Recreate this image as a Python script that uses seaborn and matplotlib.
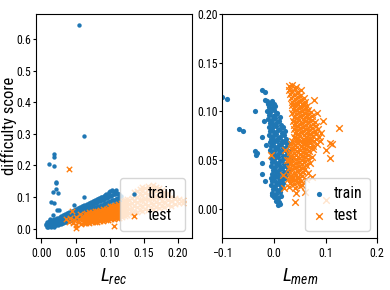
import matplotlib
matplotlib.use("Agg")
import matplotlib.pyplot as plt
from matplotlib import font_manager as fm
import seaborn as sns
import pandas as pd

# ---------------- data ----------------
# left panel: L_rec vs difficulty score, train (dots)
rec_train_pts = [
    (0.006, 0.010), (0.007, 0.016), (0.008, 0.006), (0.009, 0.013), (0.008, 0.020),
    (0.010, 0.004), (0.011, 0.011), (0.010, 0.018), (0.011, 0.025), (0.012, 0.007),
    (0.013, 0.014), (0.012, 0.021), (0.014, 0.005), (0.015, 0.012), (0.014, 0.019),
    (0.015, 0.028), (0.016, 0.009), (0.017, 0.016), (0.016, 0.024), (0.018, 0.006),
    (0.019, 0.013), (0.018, 0.021), (0.019, 0.030), (0.020, 0.010), (0.021, 0.017),
    (0.020, 0.026), (0.022, 0.012), (0.023, 0.020), (0.022, 0.029), (0.023, 0.034),
    (0.024, 0.011), (0.025, 0.018), (0.024, 0.025), (0.025, 0.033), (0.026, 0.014),
    (0.027, 0.022), (0.026, 0.030), (0.027, 0.037), (0.028, 0.016), (0.029, 0.024),
    (0.028, 0.032), (0.029, 0.039), (0.030, 0.017), (0.031, 0.026), (0.030, 0.034),
    (0.031, 0.042), (0.032, 0.019), (0.033, 0.028), (0.032, 0.036), (0.033, 0.044),
    (0.034, 0.021), (0.035, 0.030), (0.034, 0.038), (0.035, 0.045), (0.036, 0.022),
    (0.037, 0.031), (0.036, 0.040), (0.037, 0.048), (0.038, 0.024), (0.039, 0.033),
    (0.038, 0.042), (0.039, 0.050), (0.040, 0.025), (0.041, 0.035), (0.040, 0.044),
    (0.041, 0.052), (0.042, 0.027), (0.043, 0.037), (0.042, 0.046), (0.043, 0.054),
    (0.044, 0.028), (0.045, 0.038), (0.044, 0.048), (0.045, 0.056), (0.046, 0.030),
    (0.047, 0.040), (0.046, 0.050), (0.047, 0.059), (0.048, 0.031), (0.049, 0.042),
    (0.048, 0.052), (0.049, 0.060), (0.050, 0.033), (0.051, 0.044), (0.050, 0.054),
    (0.051, 0.062), (0.052, 0.034), (0.053, 0.046), (0.052, 0.056), (0.053, 0.064),
    (0.054, 0.036), (0.055, 0.047), (0.054, 0.058), (0.055, 0.066), (0.056, 0.037),
    (0.057, 0.049), (0.056, 0.060), (0.057, 0.068), (0.058, 0.039), (0.059, 0.051),
    (0.058, 0.062), (0.059, 0.070), (0.060, 0.040), (0.061, 0.052), (0.060, 0.063),
    (0.061, 0.072), (0.062, 0.042), (0.063, 0.054), (0.062, 0.065), (0.063, 0.074),
    (0.064, 0.043), (0.065, 0.056), (0.064, 0.067), (0.065, 0.076), (0.066, 0.045),
    (0.067, 0.058), (0.066, 0.069), (0.067, 0.078), (0.068, 0.046), (0.069, 0.059),
    (0.068, 0.071), (0.069, 0.080), (0.070, 0.048), (0.071, 0.061), (0.070, 0.073),
    (0.071, 0.082), (0.072, 0.049), (0.073, 0.063), (0.072, 0.075), (0.073, 0.084),
    (0.074, 0.051), (0.075, 0.064), (0.074, 0.077), (0.075, 0.086), (0.076, 0.052),
    (0.077, 0.066), (0.076, 0.078), (0.077, 0.088), (0.078, 0.054), (0.079, 0.068),
    (0.078, 0.080), (0.079, 0.090), (0.080, 0.055), (0.081, 0.069), (0.080, 0.082),
    (0.081, 0.093), (0.082, 0.057), (0.083, 0.071), (0.082, 0.084), (0.083, 0.095),
    (0.084, 0.058), (0.085, 0.073), (0.084, 0.086), (0.085, 0.097), (0.086, 0.060),
    (0.087, 0.075), (0.086, 0.088), (0.087, 0.099), (0.088, 0.061), (0.089, 0.076),
    (0.088, 0.090), (0.089, 0.101), (0.090, 0.063), (0.091, 0.078), (0.090, 0.092),
    (0.091, 0.104), (0.092, 0.064), (0.093, 0.080), (0.092, 0.094), (0.093, 0.106),
    (0.094, 0.066), (0.095, 0.082), (0.094, 0.096), (0.095, 0.108), (0.096, 0.067),
    (0.097, 0.083), (0.096, 0.098), (0.097, 0.111), (0.098, 0.069), (0.099, 0.085),
    (0.098, 0.100), (0.099, 0.115), (0.100, 0.070), (0.101, 0.087), (0.100, 0.102),
    (0.101, 0.119), (0.102, 0.072), (0.103, 0.089), (0.102, 0.104), (0.103, 0.121),
    (0.104, 0.074), (0.105, 0.090), (0.104, 0.106), (0.105, 0.118), (0.106, 0.076),
    (0.107, 0.092), (0.106, 0.108), (0.107, 0.116), (0.108, 0.078), (0.109, 0.094),
    (0.108, 0.110), (0.109, 0.121), (0.110, 0.080), (0.111, 0.096), (0.110, 0.112),
    (0.112, 0.083), (0.113, 0.098), (0.112, 0.110), (0.114, 0.086), (0.115, 0.100),
    (0.114, 0.108), (0.116, 0.090), (0.117, 0.104),
    # scattered high-difficulty training samples
    (0.055, 0.644), (0.062, 0.294), (0.0185, 0.235), (0.019, 0.228), (0.011, 0.204),
    (0.0185, 0.197), (0.021, 0.149), (0.021, 0.144), (0.021, 0.124), (0.017, 0.117),
    (0.024, 0.114), (0.0147, 0.083), (0.018, 0.081), (0.023, 0.059), (0.025, 0.060),
    (0.062, 0.099), (0.047, 0.075), (0.017, 0.043), (0.012, 0.030),
]

# left panel: test (x markers)
rec_test_pts = [
    (0.036, 0.030), (0.040, 0.022), (0.042, 0.035), (0.045, 0.055), (0.046, 0.018),
    (0.048, 0.028), (0.050, 0.012), (0.050, 0.038), (0.050, 0.002), (0.053, 0.022),
    (0.055, 0.031), (0.056, 0.045), (0.058, 0.016), (0.059, 0.026), (0.060, 0.036),
    (0.062, 0.018), (0.062, 0.029), (0.062, 0.041), (0.064, 0.022), (0.064, 0.034),
    (0.064, 0.046), (0.066, 0.017), (0.066, 0.027), (0.066, 0.038), (0.066, 0.049),
    (0.068, 0.021), (0.068, 0.032), (0.068, 0.044), (0.070, 0.019), (0.070, 0.029),
    (0.070, 0.040), (0.070, 0.052), (0.072, 0.024), (0.072, 0.035), (0.072, 0.046),
    (0.074, 0.020), (0.074, 0.030), (0.074, 0.041), (0.074, 0.054), (0.076, 0.025),
    (0.076, 0.036), (0.076, 0.048), (0.078, 0.021), (0.078, 0.032), (0.078, 0.043),
    (0.078, 0.056), (0.080, 0.027), (0.080, 0.038), (0.080, 0.050), (0.082, 0.022),
    (0.082, 0.033), (0.082, 0.045), (0.082, 0.057), (0.084, 0.028), (0.084, 0.039),
    (0.084, 0.052), (0.086, 0.023), (0.086, 0.035), (0.086, 0.047), (0.086, 0.059),
    (0.088, 0.029), (0.088, 0.041), (0.088, 0.054), (0.090, 0.025), (0.090, 0.036),
    (0.090, 0.048), (0.090, 0.061), (0.092, 0.030), (0.092, 0.043), (0.092, 0.056),
    (0.094, 0.026), (0.094, 0.038), (0.094, 0.050), (0.094, 0.063), (0.096, 0.032),
    (0.096, 0.045), (0.096, 0.058), (0.098, 0.027), (0.098, 0.040), (0.098, 0.052),
    (0.098, 0.066), (0.100, 0.034), (0.100, 0.047), (0.100, 0.060), (0.100, 0.070),
    (0.102, 0.029), (0.102, 0.042), (0.102, 0.055), (0.102, 0.067), (0.104, 0.036),
    (0.104, 0.049), (0.104, 0.062), (0.104, 0.072), (0.106, 0.031), (0.106, 0.044),
    (0.106, 0.057), (0.106, 0.069), (0.108, 0.038), (0.108, 0.051), (0.108, 0.064),
    (0.108, 0.075), (0.110, 0.033), (0.110, 0.046), (0.110, 0.059), (0.110, 0.072),
    (0.112, 0.040), (0.112, 0.053), (0.112, 0.066), (0.112, 0.078), (0.114, 0.035),
    (0.114, 0.048), (0.114, 0.061), (0.114, 0.075), (0.116, 0.042), (0.116, 0.056),
    (0.116, 0.069), (0.116, 0.082), (0.118, 0.037), (0.118, 0.050), (0.118, 0.064),
    (0.118, 0.079), (0.120, 0.044), (0.120, 0.058), (0.120, 0.072), (0.120, 0.086),
    (0.122, 0.040), (0.122, 0.053), (0.122, 0.067), (0.122, 0.083), (0.122, 0.092),
    (0.124, 0.046), (0.124, 0.060), (0.124, 0.075), (0.124, 0.088), (0.126, 0.042),
    (0.126, 0.056), (0.126, 0.070), (0.126, 0.085), (0.126, 0.095), (0.128, 0.048),
    (0.128, 0.063), (0.128, 0.078), (0.128, 0.091),
    (0.132, 0.050), (0.132, 0.066), (0.132, 0.082), (0.132, 0.098),
    (0.136, 0.054), (0.136, 0.070), (0.136, 0.087), (0.136, 0.104), (0.136, 0.115),
    (0.140, 0.052), (0.140, 0.068), (0.140, 0.085), (0.140, 0.101), (0.140, 0.118),
    (0.144, 0.058), (0.144, 0.075), (0.144, 0.092), (0.144, 0.109), (0.144, 0.124),
    (0.148, 0.056), (0.148, 0.072), (0.148, 0.089), (0.148, 0.106), (0.148, 0.122),
    (0.148, 0.131), (0.152, 0.061), (0.152, 0.078), (0.152, 0.095), (0.152, 0.112),
    (0.152, 0.128), (0.156, 0.059), (0.156, 0.076), (0.156, 0.093), (0.156, 0.110),
    (0.156, 0.127), (0.156, 0.136), (0.160, 0.064), (0.160, 0.081), (0.160, 0.098),
    (0.160, 0.115), (0.160, 0.132), (0.164, 0.062), (0.164, 0.079), (0.164, 0.096),
    (0.164, 0.113), (0.164, 0.130), (0.164, 0.137), (0.168, 0.067), (0.168, 0.084),
    (0.168, 0.101), (0.168, 0.118), (0.168, 0.133), (0.172, 0.065), (0.172, 0.082),
    (0.172, 0.099), (0.172, 0.116), (0.172, 0.129), (0.176, 0.070), (0.176, 0.087),
    (0.176, 0.104), (0.176, 0.121), (0.180, 0.068), (0.180, 0.085), (0.180, 0.102),
    (0.180, 0.117), (0.185, 0.074), (0.185, 0.090), (0.185, 0.106), (0.185, 0.112),
    (0.190, 0.072), (0.190, 0.088), (0.190, 0.101), (0.196, 0.078), (0.196, 0.093),
    (0.196, 0.098), (0.202, 0.082), (0.202, 0.095), (0.208, 0.080), (0.208, 0.089),
    # isolated test samples
    (0.041, 0.190), (0.107, 0.008),
]

# right panel: L_mem vs difficulty score, train (dots)
mem_train_pts = [
    (-0.012, 0.108), (-0.006, 0.109), (0.000, 0.107), (-0.003, 0.111),
    (-0.010, 0.104), (-0.004, 0.103), (0.003, 0.105),
    (-0.013, 0.100), (-0.007, 0.099), (0.000, 0.101), (0.006, 0.098),
    (-0.009, 0.096), (-0.002, 0.095), (0.005, 0.097), (0.012, 0.094),
    (-0.011, 0.092), (-0.004, 0.091), (0.003, 0.093), (0.010, 0.090),
    (-0.008, 0.088), (-0.001, 0.087), (0.006, 0.089), (0.014, 0.086),
    (-0.010, 0.084), (-0.003, 0.083), (0.004, 0.085), (0.011, 0.082), (0.018, 0.084),
    (-0.007, 0.080), (0.000, 0.079), (0.007, 0.081), (0.015, 0.078), (0.022, 0.080),
    (-0.009, 0.076), (-0.002, 0.075), (0.005, 0.077), (0.012, 0.074), (0.020, 0.076),
    (-0.006, 0.072), (0.001, 0.071), (0.008, 0.073), (0.016, 0.070), (0.024, 0.072),
    (-0.008, 0.068), (-0.001, 0.067), (0.006, 0.069), (0.013, 0.066), (0.021, 0.068),
    (0.028, 0.067),
    (-0.005, 0.064), (0.002, 0.063), (0.009, 0.065), (0.017, 0.062), (0.025, 0.064),
    (-0.007, 0.060), (0.000, 0.059), (0.007, 0.061), (0.014, 0.058), (0.022, 0.060),
    (0.030, 0.059),
    (-0.004, 0.056), (0.003, 0.055), (0.010, 0.057), (0.018, 0.054), (0.026, 0.056),
    (-0.006, 0.052), (0.001, 0.051), (0.008, 0.053), (0.015, 0.050), (0.023, 0.052),
    (0.031, 0.051),
    (-0.003, 0.048), (0.004, 0.047), (0.011, 0.049), (0.019, 0.046), (0.027, 0.048),
    (-0.005, 0.044), (0.002, 0.043), (0.009, 0.045), (0.016, 0.042), (0.024, 0.044),
    (-0.002, 0.040), (0.005, 0.039), (0.012, 0.041), (0.020, 0.038), (0.028, 0.040),
    (-0.004, 0.036), (0.003, 0.035), (0.010, 0.037), (0.017, 0.034), (0.025, 0.036),
    (-0.006, 0.032), (0.001, 0.031), (0.008, 0.033), (0.015, 0.030), (0.022, 0.032),
    (-0.003, 0.028), (0.004, 0.027), (0.011, 0.029), (0.018, 0.026),
    (-0.005, 0.024), (0.002, 0.023), (0.009, 0.025), (0.016, 0.022),
    (-0.001, 0.020), (0.006, 0.019), (0.013, 0.021),
    (-0.003, 0.016), (0.004, 0.015), (0.011, 0.017),
    (0.000, 0.012), (0.007, 0.011), (0.013, 0.013),
    (0.004, 0.008), (0.010, 0.007), (0.008, 0.004), (0.012, 0.005),
    # scattered training samples
    (-0.100, 0.115), (-0.091, 0.113), (-0.023, 0.122), (-0.017, 0.120), (-0.018, 0.112),
    (-0.014, 0.111), (-0.037, 0.100), (-0.067, 0.082), (-0.060, 0.080), (-0.024, 0.074),
    (-0.036, 0.059), (-0.034, 0.055), (-0.033, 0.057), (-0.024, 0.047), (-0.023, 0.036),
    (-0.017, 0.028), (-0.004, 0.014), (-0.015, 0.065), (-0.020, 0.090),
]

# right panel: test (x markers)
mem_test_pts = [
    (0.030, 0.126), (0.036, 0.127), (0.043, 0.125),
    (0.029, 0.122), (0.035, 0.121), (0.041, 0.123), (0.047, 0.120), (0.053, 0.122),
    (0.032, 0.118), (0.038, 0.117), (0.044, 0.119), (0.050, 0.116),
    (0.034, 0.114), (0.040, 0.113), (0.046, 0.115), (0.052, 0.112), (0.058, 0.114),
    (0.036, 0.110), (0.042, 0.109), (0.048, 0.111), (0.054, 0.108), (0.060, 0.110),
    (0.035, 0.106), (0.041, 0.105), (0.047, 0.107), (0.053, 0.104), (0.059, 0.106),
    (0.065, 0.105),
    (0.037, 0.102), (0.043, 0.101), (0.049, 0.103), (0.055, 0.100), (0.061, 0.102),
    (0.067, 0.101),
    (0.036, 0.098), (0.042, 0.097), (0.048, 0.099), (0.054, 0.096), (0.060, 0.098),
    (0.066, 0.097), (0.072, 0.099),
    (0.038, 0.094), (0.044, 0.093), (0.050, 0.095), (0.056, 0.092), (0.062, 0.094),
    (0.068, 0.093), (0.074, 0.095),
    (0.037, 0.090), (0.043, 0.089), (0.049, 0.091), (0.055, 0.088), (0.061, 0.090),
    (0.067, 0.089), (0.073, 0.091), (0.079, 0.089),
    (0.039, 0.086), (0.045, 0.085), (0.051, 0.087), (0.057, 0.084), (0.063, 0.086),
    (0.069, 0.085), (0.075, 0.087), (0.081, 0.085),
    (0.038, 0.082), (0.044, 0.081), (0.050, 0.083), (0.056, 0.080), (0.062, 0.082),
    (0.068, 0.081), (0.074, 0.083), (0.080, 0.080), (0.086, 0.082),
    (0.040, 0.078), (0.046, 0.077), (0.052, 0.079), (0.058, 0.076), (0.064, 0.078),
    (0.070, 0.077), (0.076, 0.079), (0.082, 0.077),
    (0.039, 0.074), (0.045, 0.073), (0.051, 0.075), (0.057, 0.072), (0.063, 0.074),
    (0.069, 0.073), (0.075, 0.075), (0.081, 0.072), (0.087, 0.074),
    (0.036, 0.070), (0.042, 0.069), (0.048, 0.071), (0.054, 0.068), (0.060, 0.070),
    (0.066, 0.069), (0.072, 0.071), (0.078, 0.069),
    (0.034, 0.066), (0.040, 0.065), (0.046, 0.067), (0.052, 0.064), (0.058, 0.066),
    (0.064, 0.065), (0.070, 0.067), (0.076, 0.064), (0.083, 0.066),
    (0.033, 0.062), (0.039, 0.061), (0.045, 0.063), (0.051, 0.060), (0.057, 0.062),
    (0.063, 0.061), (0.069, 0.063), (0.076, 0.061),
    (0.032, 0.058), (0.038, 0.057), (0.044, 0.059), (0.050, 0.056), (0.056, 0.058),
    (0.062, 0.057), (0.068, 0.059),
    (0.031, 0.054), (0.037, 0.053), (0.043, 0.055), (0.049, 0.052), (0.055, 0.054),
    (0.061, 0.053), (0.067, 0.055), (0.074, 0.053),
    (0.030, 0.050), (0.036, 0.049), (0.042, 0.051), (0.048, 0.048), (0.054, 0.050),
    (0.060, 0.049), (0.066, 0.051),
    (0.031, 0.046), (0.037, 0.045), (0.043, 0.047), (0.049, 0.044), (0.055, 0.046),
    (0.062, 0.045), (0.070, 0.047),
    (0.030, 0.042), (0.036, 0.041), (0.042, 0.043), (0.048, 0.040), (0.054, 0.042),
    (0.060, 0.041),
    (0.032, 0.038), (0.038, 0.037), (0.044, 0.039), (0.050, 0.036), (0.057, 0.038),
    (0.066, 0.037),
    (0.031, 0.034), (0.037, 0.033), (0.043, 0.035), (0.049, 0.032), (0.055, 0.034),
    (0.033, 0.030), (0.039, 0.029), (0.045, 0.031), (0.052, 0.028), (0.062, 0.030),
    (0.032, 0.026), (0.038, 0.025), (0.046, 0.027), (0.055, 0.024),
    (0.030, 0.022), (0.040, 0.021), (0.050, 0.023),
    # isolated test samples
    (0.126, 0.083), (0.113, 0.066), (0.109, 0.052), (0.109, 0.067), (0.096, 0.090),
    (0.092, 0.078), (0.100, 0.060), (-0.005, 0.055), (0.041, 0.007), (0.061, 0.017),
    (0.043, 0.016), (0.019, 0.021), (0.074, 0.033), (0.017, 0.035), (0.025, 0.050),
    (0.022, 0.060), (0.028, 0.030), (0.100, 0.009), (0.078, 0.112), (0.084, 0.098),
    (0.090, 0.070),
]

series_labels = ["train", "test"]
y_label = "difficulty score"
x_labels = [r"$L_{rec}$", r"$L_{mem}$"]
left_xticks = [0.00, 0.05, 0.10, 0.15, 0.20]
left_yticks = [0.0, 0.1, 0.2, 0.3, 0.4, 0.5, 0.6]
right_xticks = [-0.1, 0.0, 0.1, 0.2]
right_yticks = [0.00, 0.05, 0.10, 0.15, 0.20]

# ---------------- styling ----------------
available = {f.name for f in fm.fontManager.ttflist}
candidates = ["Liberation Sans Narrow", "Roboto Condensed", "Noto Sans Condensed",
              "Open Sans Condensed", "Liberation Sans"]
base_font = next((c for c in candidates if c in available), "DejaVu Sans")
plt.rcParams["font.family"] = [base_font, "DejaVu Sans"]
plt.rcParams["mathtext.fontset"] = "custom"
plt.rcParams["mathtext.it"] = base_font + ":italic"
plt.rcParams["mathtext.rm"] = base_font

blue = "#1f77b4"
orange = "#ff7f0e"

def to_df(pts):
    return pd.DataFrame(pts, columns=["x", "y"])

fig = plt.figure(figsize=(3.9, 2.9), dpi=100)
ax1 = fig.add_axes([0.0923, 0.178, 0.400, 0.774])
ax2 = fig.add_axes([0.570, 0.178, 0.397, 0.774])

for ax, tr, te, sd, sx in [(ax1, rec_train_pts, rec_test_pts, 10, 15),
                           (ax2, mem_train_pts, mem_test_pts, 14, 22)]:
    dtr, dte = to_df(tr), to_df(te)
    sns.scatterplot(data=dtr, x="x", y="y", ax=ax, color=blue, marker="o", s=sd,
                    linewidth=0, label=series_labels[0])
    sns.scatterplot(data=dte, x="x", y="y", ax=ax, color=orange, marker="x", s=sx,
                    linewidth=1.0, label=series_labels[1])
    ax.legend(loc="lower right", fontsize=11.5, handlelength=0.7, handletextpad=0.55,
              borderpad=0.5, labelspacing=0.45, borderaxespad=0.45)
    ax.tick_params(axis="x", labelsize=8.5, length=3.5, pad=3.0)
    ax.tick_params(axis="y", labelsize=8.5, length=2.3, pad=1.2)

ax1.set_xlim(-0.008, 0.2206)
ax1.set_ylim(-0.031, 0.68)
ax1.set_xticks(left_xticks)
ax1.set_yticks(left_yticks)
ax1.set_xlabel(x_labels[0], fontsize=14)
ax1.set_ylabel(y_label, fontsize=12)
ax1.yaxis.set_label_coords(-0.12, 0.5)

ax2.set_xlim(-0.1, 0.2)
ax2.set_ylim(-0.0305, 0.2)
ax2.set_xticks(right_xticks)
ax2.set_yticks(right_yticks)
ax2.set_xlabel(x_labels[1], fontsize=14)
ax2.set_ylabel("")

fig.savefig("out.png", dpi=100)
